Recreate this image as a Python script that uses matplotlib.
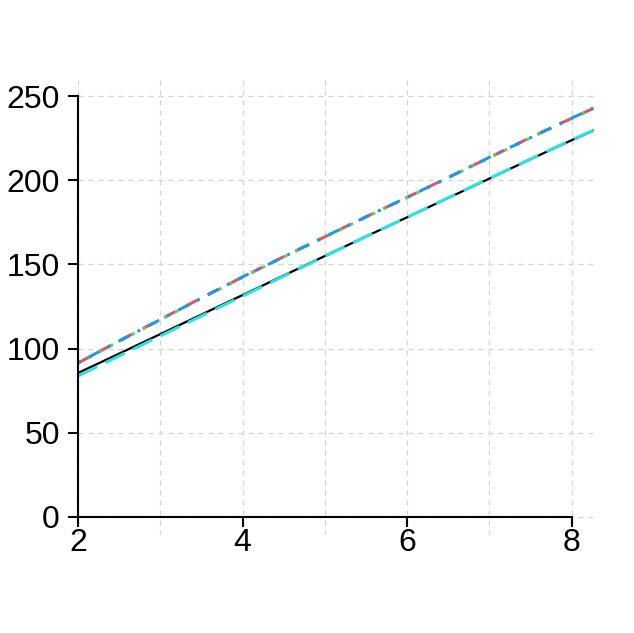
import matplotlib
matplotlib.use("Agg")
import matplotlib.pyplot as plt

plt.rcParams['font.family'] = ['Liberation Sans', 'DejaVu Sans']

x = [2, 2.5, 3, 3.5, 4, 4.5, 5, 5.5, 6, 6.5, 7, 7.5, 8, 8.5]
red_vals = [91.4, 104.6, 117.3, 130.1, 142.5, 154.6, 166.4, 178.3, 189.8, 201.7, 213.5, 225.4, 236.8, 248.0]
green_vals = [91.2, 104.4, 117.1, 129.9, 142.3, 154.4, 166.2, 178.1, 189.6, 201.5, 213.3, 225.2, 236.6, 247.8]
blue_vals = [91.5, 104.5, 117.2, 130.0, 142.6, 154.5, 166.5, 178.2, 189.9, 201.6, 213.6, 225.3, 236.9, 248.1]
black_vals = [85.5, 97.0, 108.6, 120.2, 131.8, 143.4, 155.0, 166.6, 178.0, 189.5, 201.0, 212.5, 223.8, 234.5]
cyan_vals = [83.7, 95.6, 107.5, 119.4, 131.2, 143.0, 154.8, 166.5, 178.0, 189.6, 201.1, 212.6, 224.0, 234.7]

xticks = [2, 4, 6, 8]
yticks = [0, 50, 100, 150, 200, 250]
xgrid = [2, 3, 4, 5, 6, 7, 8]

fig = plt.figure(figsize=(6.34, 6.33), dpi=100)
ax = fig.add_axes([78/634, 1-535/633, (594-78)/634, (535-78)/633])
ax.set_xlim(2, 8.27)
ax.set_ylim(-10.7, 260.7)

for g in xgrid:
    ax.axvline(g, color='#D3D3D3', lw=0.9, ls=(0, (4, 4)), zorder=0)
for g in yticks:
    ax.axhline(g, color='#D3D3D3', lw=0.9, ls=(0, (4, 4)), zorder=0)

ax.plot(x, black_vals, color='black', lw=1.6, ls='-')
ax.plot(x, red_vals, color='#DF536B', lw=2.2, ls=(0, (4, 4)))
ax.plot(x, green_vals, color='#61D04F', lw=2.2, ls=(0, (1, 3)))
ax.plot(x, blue_vals, color='#2297E6', lw=2.2, ls=(0, (1, 3, 4, 3)))
ax.plot(x, cyan_vals, color='#28E2E5', lw=2.2, ls=(0, (7, 3)))

for s in ['top', 'right']:
    ax.spines[s].set_visible(False)
ax.spines['left'].set_position(('data', 2))
ax.spines['bottom'].set_position(('data', 0))
ax.spines['left'].set_bounds(0, 250)
ax.spines['bottom'].set_bounds(2, 8)
ax.spines['left'].set_linewidth(1.5)
ax.spines['bottom'].set_linewidth(1.5)

ax.set_xticks(xticks)
ax.set_yticks(yticks)
ax.tick_params(axis='both', direction='out', length=7, width=1.5, labelsize=23)
ax.tick_params(axis='y', pad=6)
ax.tick_params(axis='x', pad=1)

fig.savefig('out.png', dpi=100)
